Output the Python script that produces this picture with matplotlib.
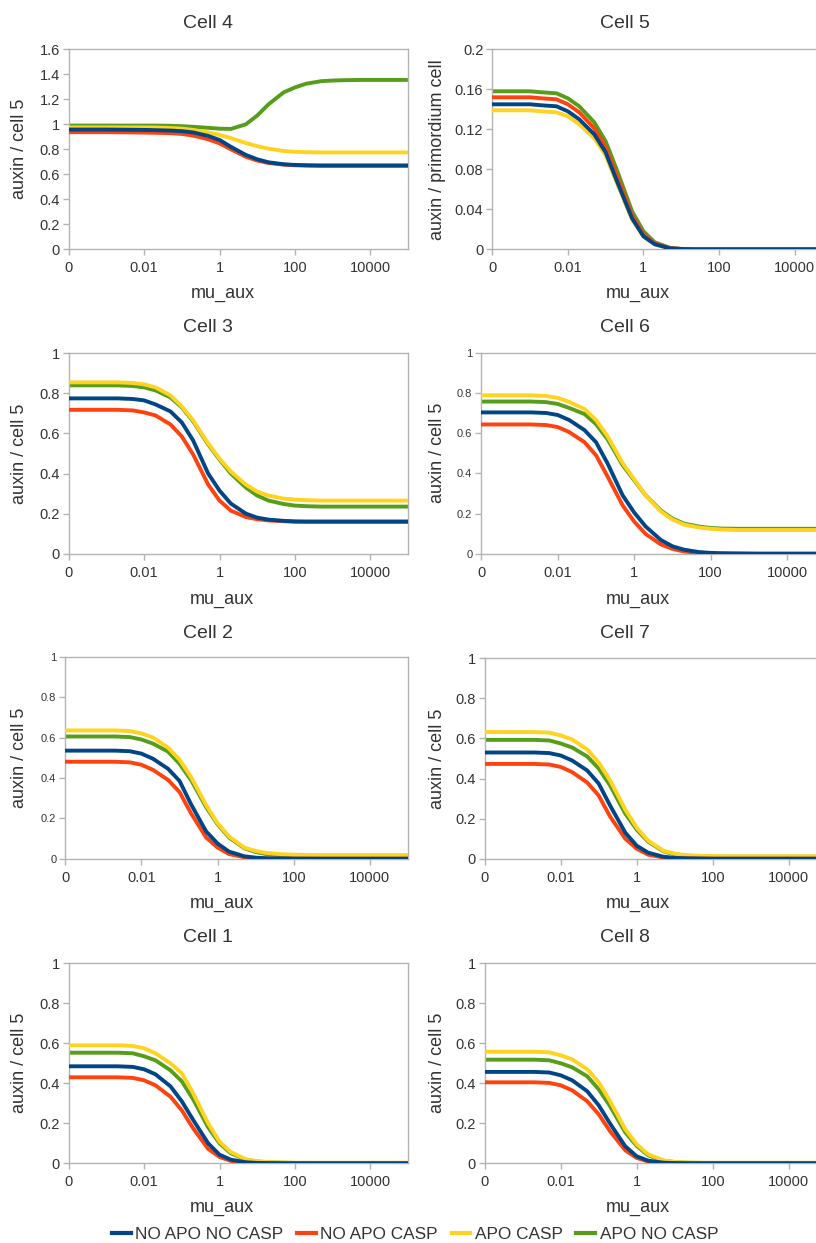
import matplotlib
matplotlib.use('Agg')
import matplotlib.pyplot as plt
from matplotlib.lines import Line2D
from matplotlib.ticker import FixedLocator, FixedFormatter, NullLocator

plt.rcParams['font.family'] = ['Liberation Sans', 'DejaVu Sans']

# ---------------- data ----------------
mu_aux = [1e-4, 2e-4, 5e-4, 1e-3, 2e-3, 5e-3, 0.01, 0.02, 0.05, 0.1, 0.2, 0.5,
          1, 2, 5, 10, 20, 50, 100, 200, 500, 1e3, 2e3, 5e3, 1e4, 2e4, 5e4, 1e5]

series_names = ['NO APO NO CASP', 'NO APO CASP', 'APO CASP', 'APO NO CASP']
series_colors = ['#004586', '#ff420e', '#ffd320', '#579d1c']

x_tick_values = [1e-4, 1e-2, 1, 100, 1e4]
x_tick_labels = ['0', '0.01', '1', '100', '10000']

# Cell 4
cell4_noapo_nocasp = [0.958, 0.958, 0.958, 0.958, 0.957, 0.956, 0.955, 0.953, 0.95, 0.945, 0.935, 0.907, 0.875, 0.82,
                      0.755, 0.72, 0.696, 0.68, 0.675, 0.672, 0.67, 0.67, 0.67, 0.67, 0.67, 0.67, 0.67, 0.67]
cell4_noapo_casp = [0.937, 0.937, 0.937, 0.937, 0.936, 0.935, 0.934, 0.932, 0.929, 0.923, 0.91, 0.88, 0.848, 0.8,
                    0.74, 0.71, 0.69, 0.678, 0.672, 0.67, 0.669, 0.669, 0.669, 0.669, 0.669, 0.669, 0.669, 0.669]
cell4_apo_casp = [0.975, 0.975, 0.975, 0.975, 0.975, 0.975, 0.975, 0.974, 0.97, 0.965, 0.955, 0.935, 0.915, 0.89,
                  0.85, 0.825, 0.805, 0.787, 0.78, 0.777, 0.775, 0.775, 0.775, 0.775, 0.775, 0.775, 0.775, 0.775]
cell4_apo_nocasp = [0.99, 0.99, 0.99, 0.99, 0.99, 0.99, 0.99, 0.99, 0.988, 0.985, 0.98, 0.972, 0.965, 0.963,
                    1.0, 1.07, 1.16, 1.255, 1.295, 1.325, 1.345, 1.35, 1.353, 1.355, 1.355, 1.355, 1.355, 1.355]

# Cell 5
cell5_noapo_nocasp = [0.145, 0.145, 0.145, 0.145, 0.144, 0.143, 0.138, 0.13, 0.115, 0.097, 0.068, 0.031, 0.013, 0.005,
                      0.001, 0.0003, 0, 0, 0, 0, 0, 0, 0, 0, 0, 0, 0, 0]
cell5_noapo_casp = [0.152, 0.152, 0.152, 0.152, 0.151, 0.15, 0.145, 0.137, 0.121, 0.102, 0.073, 0.034, 0.015, 0.006,
                    0.0012, 0.0003, 0, 0, 0, 0, 0, 0, 0, 0, 0, 0, 0, 0]
cell5_apo_casp = [0.139, 0.139, 0.139, 0.139, 0.138, 0.137, 0.133, 0.125, 0.111, 0.094, 0.066, 0.03, 0.013, 0.005,
                  0.001, 0.0003, 0, 0, 0, 0, 0, 0, 0, 0, 0, 0, 0, 0]
cell5_apo_nocasp = [0.158, 0.158, 0.158, 0.158, 0.157, 0.156, 0.151, 0.143, 0.127, 0.108, 0.079, 0.038, 0.018, 0.007,
                    0.0015, 0.0004, 0, 0, 0, 0, 0, 0, 0, 0, 0, 0, 0, 0]

# Cell 3
cell3_noapo_nocasp = [0.775, 0.775, 0.775, 0.775, 0.775, 0.772, 0.765, 0.745, 0.71, 0.655, 0.565, 0.4, 0.315, 0.25,
                      0.2, 0.18, 0.17, 0.164, 0.161, 0.16, 0.16, 0.16, 0.16, 0.16, 0.16, 0.16, 0.16, 0.16]
cell3_noapo_casp = [0.718, 0.718, 0.718, 0.718, 0.718, 0.715, 0.705, 0.69, 0.645, 0.585, 0.495, 0.345, 0.265, 0.215,
                    0.183, 0.172, 0.166, 0.162, 0.16, 0.16, 0.16, 0.16, 0.16, 0.16, 0.16, 0.16, 0.16, 0.16]
cell3_apo_casp = [0.855, 0.855, 0.855, 0.855, 0.855, 0.852, 0.845, 0.83, 0.79, 0.735, 0.665, 0.55, 0.475, 0.41,
                  0.345, 0.31, 0.29, 0.275, 0.27, 0.267, 0.265, 0.265, 0.265, 0.265, 0.265, 0.265, 0.265, 0.265]
cell3_apo_nocasp = [0.84, 0.84, 0.84, 0.84, 0.84, 0.837, 0.83, 0.815, 0.78, 0.73, 0.66, 0.545, 0.47, 0.4,
                    0.33, 0.29, 0.265, 0.248, 0.24, 0.237, 0.235, 0.235, 0.235, 0.235, 0.235, 0.235, 0.235, 0.235]

# Cell 6
cell6_noapo_nocasp = [0.703, 0.703, 0.703, 0.703, 0.703, 0.7, 0.69, 0.665, 0.615, 0.555, 0.45, 0.29, 0.205, 0.135,
                      0.068, 0.037, 0.02, 0.008, 0.004, 0.002, 0.001, 0.0005, 0, 0, 0, 0, 0, 0]
cell6_noapo_casp = [0.643, 0.643, 0.643, 0.643, 0.643, 0.64, 0.63, 0.605, 0.555, 0.49, 0.385, 0.24, 0.16, 0.098,
                    0.046, 0.024, 0.011, 0.004, 0.002, 0.001, 0.0005, 0, 0, 0, 0, 0, 0, 0]
cell6_apo_casp = [0.788, 0.788, 0.788, 0.788, 0.788, 0.785, 0.775, 0.755, 0.72, 0.665, 0.585, 0.45, 0.37, 0.29,
                  0.21, 0.17, 0.145, 0.13, 0.124, 0.12, 0.118, 0.118, 0.118, 0.118, 0.118, 0.118, 0.118, 0.118]
cell6_apo_nocasp = [0.757, 0.757, 0.757, 0.757, 0.757, 0.754, 0.745, 0.725, 0.695, 0.645, 0.57, 0.44, 0.365, 0.29,
                    0.215, 0.175, 0.15, 0.135, 0.128, 0.125, 0.124, 0.124, 0.124, 0.124, 0.124, 0.124, 0.124, 0.124]

# Cell 2
cell2_noapo_nocasp = [0.535, 0.535, 0.535, 0.535, 0.535, 0.532, 0.52, 0.495, 0.445, 0.385, 0.27, 0.135, 0.075, 0.035,
                      0.012, 0.005, 0.002, 0.001, 0, 0, 0, 0, 0, 0, 0, 0, 0, 0]
cell2_noapo_casp = [0.48, 0.48, 0.48, 0.48, 0.48, 0.477, 0.465, 0.44, 0.39, 0.33, 0.225, 0.105, 0.055, 0.023,
                    0.007, 0.003, 0.001, 0, 0, 0, 0, 0, 0, 0, 0, 0, 0, 0]
cell2_apo_casp = [0.635, 0.635, 0.635, 0.635, 0.635, 0.632, 0.62, 0.6, 0.55, 0.49, 0.405, 0.265, 0.175, 0.11,
                  0.055, 0.038, 0.028, 0.022, 0.02, 0.019, 0.018, 0.018, 0.018, 0.018, 0.018, 0.018, 0.018, 0.018]
cell2_apo_nocasp = [0.605, 0.605, 0.605, 0.605, 0.605, 0.602, 0.59, 0.57, 0.53, 0.47, 0.39, 0.255, 0.17, 0.105,
                    0.052, 0.033, 0.022, 0.016, 0.014, 0.013, 0.013, 0.013, 0.013, 0.013, 0.013, 0.013, 0.013, 0.013]

# Cell 7
cell7_noapo_nocasp = [0.53, 0.53, 0.53, 0.53, 0.53, 0.527, 0.515, 0.49, 0.44, 0.375, 0.265, 0.13, 0.065, 0.03,
                      0.01, 0.004, 0.002, 0.001, 0, 0, 0, 0, 0, 0, 0, 0, 0, 0]
cell7_noapo_casp = [0.473, 0.473, 0.473, 0.473, 0.473, 0.47, 0.458, 0.432, 0.38, 0.315, 0.21, 0.1, 0.05, 0.02,
                    0.006, 0.002, 0.001, 0, 0, 0, 0, 0, 0, 0, 0, 0, 0, 0]
cell7_apo_casp = [0.632, 0.632, 0.632, 0.632, 0.632, 0.629, 0.615, 0.595, 0.545, 0.48, 0.39, 0.245, 0.155, 0.09,
                  0.04, 0.025, 0.018, 0.014, 0.013, 0.012, 0.012, 0.012, 0.012, 0.012, 0.012, 0.012, 0.012, 0.012]
cell7_apo_nocasp = [0.593, 0.593, 0.593, 0.593, 0.593, 0.59, 0.575, 0.555, 0.51, 0.45, 0.365, 0.225, 0.145, 0.085,
                    0.037, 0.022, 0.015, 0.011, 0.01, 0.01, 0.01, 0.01, 0.01, 0.01, 0.01, 0.01, 0.01, 0.01]

# Cell 1
cell1_noapo_nocasp = [0.485, 0.485, 0.485, 0.485, 0.485, 0.482, 0.47, 0.445, 0.385, 0.31, 0.217, 0.1, 0.043, 0.018,
                      0.005, 0.002, 0.001, 0, 0, 0, 0, 0, 0, 0, 0, 0, 0, 0]
cell1_noapo_casp = [0.43, 0.43, 0.43, 0.43, 0.43, 0.427, 0.415, 0.39, 0.333, 0.265, 0.175, 0.072, 0.032, 0.012,
                    0.003, 0.001, 0, 0, 0, 0, 0, 0, 0, 0, 0, 0, 0, 0]
cell1_apo_casp = [0.59, 0.59, 0.59, 0.59, 0.59, 0.587, 0.575, 0.55, 0.5, 0.45, 0.35, 0.2, 0.108, 0.056,
                  0.02, 0.01, 0.006, 0.004, 0.003, 0.003, 0.003, 0.003, 0.003, 0.003, 0.003, 0.003, 0.003, 0.003]
cell1_apo_nocasp = [0.553, 0.553, 0.553, 0.553, 0.553, 0.55, 0.535, 0.515, 0.465, 0.41, 0.32, 0.18, 0.1, 0.05,
                    0.018, 0.009, 0.005, 0.003, 0.002, 0.002, 0.002, 0.002, 0.002, 0.002, 0.002, 0.002, 0.002, 0.002]

# Cell 8
cell8_noapo_nocasp = [0.457, 0.457, 0.457, 0.457, 0.457, 0.454, 0.44, 0.415, 0.36, 0.29, 0.198, 0.085, 0.035, 0.013,
                      0.003, 0.001, 0, 0, 0, 0, 0, 0, 0, 0, 0, 0, 0, 0]
cell8_noapo_casp = [0.405, 0.405, 0.405, 0.405, 0.405, 0.402, 0.39, 0.365, 0.31, 0.245, 0.16, 0.065, 0.027, 0.009,
                    0.002, 0.001, 0, 0, 0, 0, 0, 0, 0, 0, 0, 0, 0, 0]
cell8_apo_casp = [0.558, 0.558, 0.558, 0.558, 0.558, 0.555, 0.54, 0.52, 0.47, 0.405, 0.31, 0.17, 0.095, 0.045,
                  0.015, 0.007, 0.004, 0.003, 0.003, 0.003, 0.003, 0.003, 0.003, 0.003, 0.003, 0.003, 0.003, 0.003]
cell8_apo_nocasp = [0.518, 0.518, 0.518, 0.518, 0.518, 0.515, 0.5, 0.48, 0.435, 0.37, 0.285, 0.155, 0.087, 0.04,
                    0.013, 0.006, 0.003, 0.002, 0.002, 0.002, 0.002, 0.002, 0.002, 0.002, 0.002, 0.002, 0.002, 0.002]

yticks_default = [0, 0.2, 0.4, 0.6, 0.8, 1]
yticklabels_default = ['0', '0.2', '0.4', '0.6', '0.8', '1']
yticks_cell4 = [0, 0.2, 0.4, 0.6, 0.8, 1, 1.2, 1.4, 1.6]
yticklabels_cell4 = ['0', '0.2', '0.4', '0.6', '0.8', '1', '1.2', '1.4', '1.6']
yticks_cell5 = [0, 0.04, 0.08, 0.12, 0.16, 0.2]
yticklabels_cell5 = ['0', '0.04', '0.08', '0.12', '0.16', '0.2']

# ---------------- layout ----------------
W, H = 816, 1243
fig = plt.figure(figsize=(W / 100, H / 100), dpi=100)
fig.patch.set_facecolor('white')

TEXT = '#333333'
SPINE = '#b3b3b3'


def add_ax(left, top, right, bottom):
    return fig.add_axes([left / W, 1 - bottom / H, (right - left) / W, (bottom - top) / H])


panels = [
    dict(title='Cell 4', data=[cell4_noapo_nocasp, cell4_noapo_casp, cell4_apo_casp, cell4_apo_nocasp],
         rect=(68.7, 49.3, 408, 249.3), yt=yticks_cell4, ytl=yticklabels_cell4, ylab='auxin / cell 5',
         small=False, tx=208, ty=24, ylx=20, xlx=223, xly=294),
    dict(title='Cell 5', data=[cell5_noapo_nocasp, cell5_noapo_casp, cell5_apo_casp, cell5_apo_nocasp],
         rect=(492.3, 49.3, 492.3 + 340, 249.3), yt=yticks_cell5, ytl=yticklabels_cell5, ylab='auxin / primordium cell',
         small=False, tx=625, ty=24, ylx=437, xlx=638, xly=294),
    dict(title='Cell 3', data=[cell3_noapo_nocasp, cell3_noapo_casp, cell3_apo_casp, cell3_apo_nocasp],
         rect=(68.7, 353.3, 408, 553.7), yt=yticks_default, ytl=yticklabels_default, ylab='auxin / cell 5',
         small=False, tx=208, ty=328, ylx=20, xlx=222, xly=600),
    dict(title='Cell 6', data=[cell6_noapo_nocasp, cell6_noapo_casp, cell6_apo_casp, cell6_apo_nocasp],
         rect=(481.3, 352.7, 481.3 + 344, 553.7), yt=yticks_default, ytl=yticklabels_default, ylab='auxin / cell 5',
         small=True, tx=625, ty=328, ylx=437, xlx=638, xly=600),
    dict(title='Cell 2', data=[cell2_noapo_nocasp, cell2_noapo_casp, cell2_apo_casp, cell2_apo_nocasp],
         rect=(65.3, 656.7, 408, 858.7), yt=yticks_default, ytl=yticklabels_default, ylab='auxin / cell 5',
         small=True, tx=208, ty=633, ylx=20, xlx=222, xly=903),
    dict(title='Cell 7', data=[cell7_noapo_nocasp, cell7_noapo_casp, cell7_apo_casp, cell7_apo_nocasp],
         rect=(484.7, 658.3, 484.7 + 342, 858.7), yt=yticks_default, ytl=yticklabels_default, ylab='auxin / cell 5',
         small=False, tx=625, ty=633, ylx=437, xlx=638, xly=903),
    dict(title='Cell 1', data=[cell1_noapo_nocasp, cell1_noapo_casp, cell1_apo_casp, cell1_apo_nocasp],
         rect=(68.7, 963.3, 408, 1163.3), yt=yticks_default, ytl=yticklabels_default, ylab='auxin / cell 5',
         small=False, tx=208, ty=937, ylx=20, xlx=222, xly=1208),
    dict(title='Cell 8', data=[cell8_noapo_nocasp, cell8_noapo_casp, cell8_apo_casp, cell8_apo_nocasp],
         rect=(484.7, 963.3, 484.7 + 342, 1163.3), yt=yticks_default, ytl=yticklabels_default, ylab='auxin / cell 5',
         small=False, tx=625, ty=937, ylx=437, xlx=638, xly=1208),
]

zorders = [5, 4, 3, 2]

for p in panels:
    ax = add_ax(*p['rect'])
    for vals, col, name, z in zip(p['data'], series_colors, series_names, zorders):
        ax.plot(mu_aux, vals, color=col, lw=2.8, label=name, zorder=z, solid_joinstyle='round',
                clip_on=True)
    ax.set_xscale('log')
    ax.set_xlim(1e-4, 1e5)
    ax.set_ylim(p['yt'][0], p['yt'][-1])
    ax.xaxis.set_major_locator(FixedLocator(x_tick_values))
    ax.xaxis.set_major_formatter(FixedFormatter(x_tick_labels))
    ax.xaxis.set_minor_locator(NullLocator())
    ax.yaxis.set_major_locator(FixedLocator(p['yt']))
    ax.yaxis.set_major_formatter(FixedFormatter(p['ytl']))
    ax.yaxis.set_minor_locator(NullLocator())
    for s in ax.spines.values():
        s.set_color(SPINE)
        s.set_linewidth(1.0)
    ax.tick_params(axis='both', direction='out', length=4.5, width=1.0, color=SPINE, labelcolor=TEXT)
    ax.tick_params(axis='x', labelsize=10.5, pad=4)
    ax.tick_params(axis='y', labelsize=8 if p['small'] else 10.5, pad=2)
    fig.text(p['tx'] / W, 1 - p['ty'] / H, p['title'], ha='center', va='center', fontsize=14, color=TEXT)
    top, bottom = p['rect'][1], p['rect'][3]
    fig.text(p['ylx'] / W, 1 - ((top + bottom) / 2) / H, p['ylab'], ha='center', va='center',
             rotation=90, fontsize=13, color=TEXT)
    fig.text(p['xlx'] / W, 1 - p['xly'] / H, 'mu_aux', ha='center', va='center', fontsize=13, color=TEXT)

handles = [Line2D([0], [0], color=c, lw=3) for c in series_colors]
fig.legend(handles, series_names, loc='center', bbox_to_anchor=(415 / W, 1 - 1234 / H), ncol=4,
           frameon=False, fontsize=12.4, handlelength=1.1, handletextpad=0.25, columnspacing=0.8,
           labelcolor=TEXT, borderpad=0, borderaxespad=0)

fig.savefig('out.png', dpi=100)
